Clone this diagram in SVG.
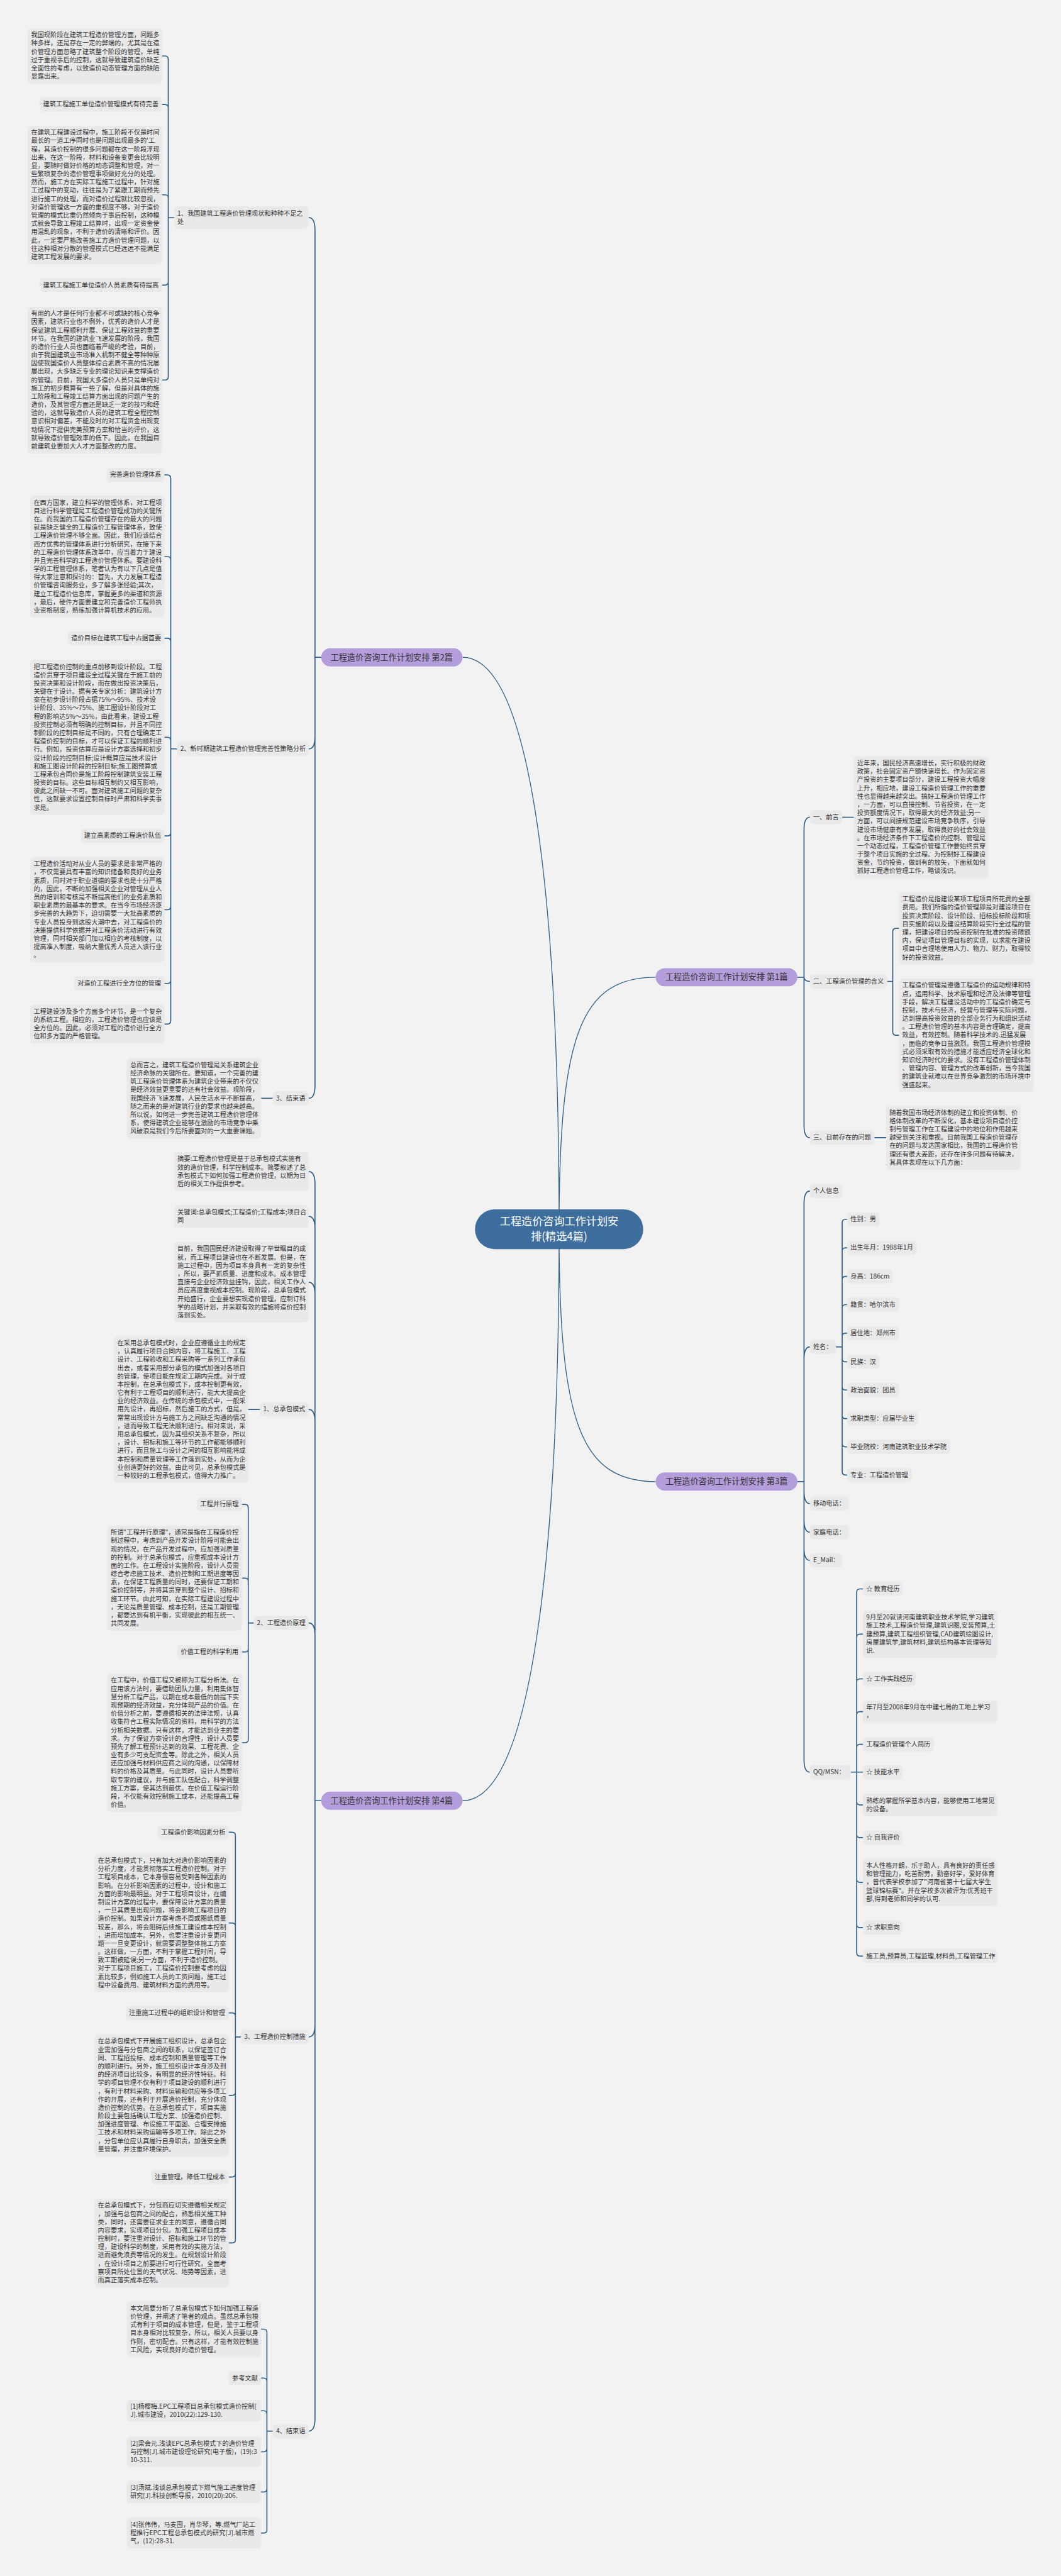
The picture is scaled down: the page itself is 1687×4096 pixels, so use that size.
<svg xmlns="http://www.w3.org/2000/svg" width="1687" height="4096" viewBox="0 0 1687 4096">
<style>
.b{fill:#e9e9e9}
.t{font-family:"Noto Sans CJK SC","Liberation Sans",sans-serif;font-size:15.5px;fill:#333}
.c{fill:none;stroke:#2e5f8a;stroke-width:2.5;stroke-linecap:round}
.m{fill:none;stroke:#2e5f8a;stroke-width:2}
.p{fill:#b49ddb}
.pt{font-family:"Noto Sans CJK SC","Liberation Sans",sans-serif;font-size:20px;fill:#333;text-anchor:middle}
.ct{font-family:"Noto Sans CJK SC","Liberation Sans",sans-serif;font-size:26px;fill:#fff;text-anchor:middle}
</style>
<rect x="0" y="0" width="1687" height="4096" fill="#f2f2f2"/>
<g transform="scale(0.65898)">
<g id="connectors">
<path class="m" d="M1349 2966C1349 2300 1300 1586 1116 1586M1349 2966C1349 3630 1300 4345 1116 4345M1349 2966C1349 2500 1400 2358 1582 2358M1349 2966C1349 3430 1400 3575 1582 3575"/>
<path class="c" d="M775 1586H760V555Q760 525 745 525M775 1586H760V1777Q760 1807 745 1807M775 1586H760V2620Q760 2650 745 2650"/>
<path class="c" d="M420 525H406V143Q406 135 398 135H391M420 525H406V260Q406 252 398 252H391M420 525H406V478Q406 470 398 470H391M420 525H406V680Q406 688 398 688H391M420 525H406V909Q406 917 398 917H391"/>
<path class="c" d="M427 1807H412V1154Q412 1146 404 1146H397M427 1807H412V1351Q412 1343 404 1343H397M427 1807H412V1548Q412 1540 404 1540H397M427 1807H412V1787Q412 1779 404 1779H397M427 1807H412V2009Q412 2017 404 2017H397M427 1807H412V2187Q412 2195 404 2195H397M427 1807H412V2365Q412 2373 404 2373H397M427 1807H412V2463Q412 2471 404 2471H397"/>
<path class="c" d="M630 2650H658"/>
<path class="c" d="M775 4345H760V2857Q760 2827 745 2827M775 4345H760V2965Q760 2935 745 2935M775 4345H760V3124Q760 3094 745 3094M775 4345H760V3431Q760 3401 745 3401M775 4345H760V3946Q760 3916 745 3916M775 4345H760V4885Q760 4915 745 4915M775 4345H760V5836Q760 5866 745 5866"/>
<path class="c" d="M599 3401H627"/>
<path class="c" d="M612 3916H599V3638Q599 3630 591 3630H584M612 3916H599V3816Q599 3808 591 3808H584M612 3916H599V3978Q599 3986 591 3986H584M612 3916H599V4197Q599 4205 591 4205H584"/>
<path class="c" d="M581 4915H568V4429Q568 4421 560 4421H552M581 4915H568V4648Q568 4640 560 4640H552M581 4915H568V4865Q568 4857 560 4857H552M581 4915H568V5048Q568 5056 560 5056H552M581 4915H568V5245Q568 5253 560 5253H552M581 4915H568V5404Q568 5412 560 5412H552"/>
<path class="c" d="M658 5866H644V5628Q644 5620 636 5620H630M658 5866H644V5746Q644 5738 636 5738H630M658 5866H644V5825Q644 5817 636 5817H630M658 5866H644V5908Q644 5916 636 5916H630M658 5866H644V6005Q644 6013 636 6013H630M658 5866H644V6104Q644 6112 636 6112H630"/>
<path class="c" d="M1924 2358H1940V2002Q1940 1972 1954 1972M1924 2358H1940Q1940 2368 1954 2368M1924 2358H1940V2715Q1940 2745 1954 2745"/>
<path class="c" d="M2032 1972H2060M2110 2745H2138"/>
<path class="c" d="M2141 2368H2154V2248Q2154 2240 2162 2240H2169M2141 2368H2154V2490Q2154 2498 2162 2498H2169"/>
<path class="c" d="M1924 3575H1940V2904Q1940 2874 1954 2874M1924 3575H1940V3280Q1940 3250 1954 3250M1924 3575H1940V3598Q1940 3628 1954 3628M1924 3575H1940V3667Q1940 3697 1954 3697M1924 3575H1940V3735Q1940 3765 1954 3765M1924 3575H1940V4246Q1940 4276 1954 4276"/>
<path class="c" d="M2017 3250H2032V2950Q2032 2942 2040 2942H2044M2017 3250H2032V3019Q2032 3011 2040 3011H2044M2017 3250H2032V3088Q2032 3080 2040 3080H2044M2017 3250H2032V3156Q2032 3148 2040 3148H2044M2017 3250H2032V3225Q2032 3217 2040 3217H2044M2017 3250H2032V3278Q2032 3286 2040 3286H2044M2017 3250H2032V3346Q2032 3354 2040 3354H2044M2017 3250H2032V3415Q2032 3423 2040 3423H2044M2017 3250H2032V3483Q2032 3491 2040 3491H2044M2017 3250H2032V3551Q2032 3559 2040 3559H2044"/>
<path class="c" d="M2053 4276H2067V3842Q2067 3834 2075 3834H2082M2053 4276H2067V3951Q2067 3943 2075 3943H2082M2053 4276H2067V4059Q2067 4051 2075 4051H2082M2053 4276H2067V4138Q2067 4130 2075 4130H2082M2053 4276H2067V4217Q2067 4209 2075 4209H2082M2053 4276H2082M2053 4276H2067V4347Q2067 4355 2075 4355H2082M2053 4276H2067V4426Q2067 4434 2075 4434H2082M2053 4276H2067V4534Q2067 4542 2075 4542H2082M2053 4276H2067V4643Q2067 4651 2075 4651H2082M2053 4276H2067V4712Q2067 4720 2075 4720H2082"/>
</g>

<g id="center"><rect x="1146" y="2918" width="406" height="96" rx="48" fill="#3d6e9e"/><text class="ct"><tspan x="1349" y="2956">工程造价咨询工作计划安</tspan><tspan x="1349" y="2993">排(精选4篇)</tspan></text></g>

<g id="p2"><rect class="p" x="775" y="1564" width="341" height="44" rx="22"/><text class="pt" x="945" y="1593">工程造价咨询工作计划安排 第2篇</text></g>
<g id="p4"><rect class="p" x="775" y="4323" width="341" height="44" rx="22"/><text class="pt" x="945" y="4352">工程造价咨询工作计划安排 第4篇</text></g>
<g id="p1"><rect class="p" x="1582" y="2336" width="342" height="44" rx="22"/><text class="pt" x="1753" y="2365">工程造价咨询工作计划安排 第1篇</text></g>
<g id="p3"><rect class="p" x="1582" y="3553" width="342" height="44" rx="22"/><text class="pt" x="1753" y="3582">工程造价咨询工作计划安排 第3篇</text></g>

<g id="l2-1"><rect class="b" x="420" y="498" width="325" height="54" rx="9"/><text class="t"><tspan x="428" y="520">1、我国建筑工程造价管理现状和种种不足之</tspan><tspan x="428" y="540">处</tspan></text></g>
<g id="a1"><rect class="b" x="67" y="68" width="324" height="134" rx="9"/><text class="t"><tspan x="75" y="90">我国现阶段在建筑工程造价管理方面，问题多</tspan><tspan x="75" y="110">种多样，还是存在一定的弊端的，尤其是在造</tspan><tspan x="75" y="130">价管理方面忽略了建筑整个阶段的管理，单纯</tspan><tspan x="75" y="150">过于重视事后的控制，这就导致建筑造价缺乏</tspan><tspan x="75" y="170">全面性的考虑，以致造价动态管理方面的缺陷</tspan><tspan x="75" y="190">显露出来。</tspan></text></g>
<g id="a2"><rect class="b" x="96" y="235" width="295" height="34" rx="9"/><text class="t" x="104" y="257">建筑工程施工单位造价管理模式有待完善</text></g>
<g id="a3"><rect class="b" x="67" y="303" width="324" height="334" rx="9"/><text class="t"><tspan x="75" y="325">在建筑工程建设过程中，施工阶段不仅是时间</tspan><tspan x="75" y="345">最长的一道工序同时也是问题出现最多的'工</tspan><tspan x="75" y="365">程，其造价控制的很多问题都在这一阶段浮现</tspan><tspan x="75" y="385">出来，在这一阶段，材料和设备变更会比较明</tspan><tspan x="75" y="405">显，要随时做好价格的动态调整和管理，对一</tspan><tspan x="75" y="425">些繁琐复杂的造价管理事项做好充分的处理。</tspan><tspan x="75" y="445">然而，施工方在实际工程施工过程中，针对施</tspan><tspan x="75" y="465">工过程中的变动，往往是为了紧跟工期而预先</tspan><tspan x="75" y="485">进行施工的处理，而对造价过程就比较忽视，</tspan><tspan x="75" y="505">对造价管理这一方面的重视度不够，对于造价</tspan><tspan x="75" y="525">管理的模式比重仍然倾向于事后控制，这种模</tspan><tspan x="75" y="545">式就会导致工程竣工结算时，出现一定资金使</tspan><tspan x="75" y="565">用混乱的现象，不利于造价的清晰和评价。因</tspan><tspan x="75" y="585">此，一定要严格改善施工方造价管理问题，以</tspan><tspan x="75" y="605">往这种相对分散的管理模式已经远远不能满足</tspan><tspan x="75" y="625">建筑工程发展的要求。</tspan></text></g>
<g id="a4"><rect class="b" x="96" y="671" width="295" height="34" rx="9"/><text class="t" x="104" y="693">建筑工程施工单位造价人员素质有待提高</text></g>
<g id="a5"><rect class="b" x="67" y="740" width="324" height="354" rx="9"/><text class="t"><tspan x="75" y="762">有用的人才是任何行业都不可或缺的核心竞争</tspan><tspan x="75" y="782">因素，建筑行业也不例外，优秀的造价人才是</tspan><tspan x="75" y="802">保证建筑工程顺利开展、保证工程效益的重要</tspan><tspan x="75" y="822">环节。在我国的建筑业飞速发展的阶段，我国</tspan><tspan x="75" y="842">的造价行业人员也面临着严峻的考验，目前，</tspan><tspan x="75" y="862">由于我国建筑业市场准入机制不健全等种种原</tspan><tspan x="75" y="882">因使我国造价人员整体综合素质不高的情况屡</tspan><tspan x="75" y="902">屡出现，大多缺乏专业的理论知识来支撑造价</tspan><tspan x="75" y="922">的管理。目前，我国大多造价人员只是单纯对</tspan><tspan x="75" y="942">施工的初步概算有一些了解，但是对具体的施</tspan><tspan x="75" y="962">工阶段和工程竣工结算方面出现的问题产生的</tspan><tspan x="75" y="982">造价，及其管理方面还是缺乏一定的技巧和经</tspan><tspan x="75" y="1002">验的，这就导致造价人员的建筑工程全程控制</tspan><tspan x="75" y="1022">意识相对偏差，不能及时的对工程资金出现变</tspan><tspan x="75" y="1042">动情况下提供完美预算方案和恰当的评价，这</tspan><tspan x="75" y="1062">就导致造价管理效率的低下。因此，在我国目</tspan><tspan x="75" y="1082">前建筑业要加大人才方面整改的力度。</tspan></text></g>

<g id="l2-2"><rect class="b" x="427" y="1790" width="318" height="34" rx="9"/><text class="t" x="435" y="1812">2、新时期建筑工程造价管理完善性策略分析</text></g>
<g id="b1"><rect class="b" x="257" y="1129" width="140" height="34" rx="9"/><text class="t" x="265" y="1151">完善造价管理体系</text></g>
<g id="b2"><rect class="b" x="73" y="1196" width="324" height="294" rx="9"/><text class="t"><tspan x="81" y="1218">在西方国家，建立科学的管理体系，对工程项</tspan><tspan x="81" y="1238">目进行科学管理是工程造价管理成功的关键所</tspan><tspan x="81" y="1258">在。而我国的工程造价管理存在的最大的问题</tspan><tspan x="81" y="1278">就是缺乏健全的工程造价工程管理体系，致使</tspan><tspan x="81" y="1298">工程造价管理不够全面。因此，我们应该结合</tspan><tspan x="81" y="1318">西方优秀的管理体系进行分析研究，在接下来</tspan><tspan x="81" y="1338">的工程造价管理体系改革中，应当着力于建设</tspan><tspan x="81" y="1358">并且完善科学的工程造价管理体系。要建设科</tspan><tspan x="81" y="1378">学的工程管理体系，笔者认为有以下几点是值</tspan><tspan x="81" y="1398">得大家注意和探讨的：首先，大力发展工程造</tspan><tspan x="81" y="1418">价管理咨询服务业，多了解多张经验;其次，</tspan><tspan x="81" y="1438">建立工程造价信息库，掌握更多的渠道和资源</tspan><tspan x="81" y="1458">，最后，硬件方面要建立和完善造价工程师执</tspan><tspan x="81" y="1478">业资格制度，熟练加强计算机技术的应用。</tspan></text></g>
<g id="b3"><rect class="b" x="164" y="1523" width="233" height="34" rx="9"/><text class="t" x="172" y="1545">造价目标在建筑工程中占据首要</text></g>
<g id="b4"><rect class="b" x="73" y="1592" width="324" height="374" rx="9"/><text class="t"><tspan x="81" y="1614">把工程造价控制的重点前移到设计阶段。工程</tspan><tspan x="81" y="1634">造价贯穿于项目建设全过程关键在于施工前的</tspan><tspan x="81" y="1654">投资决策和设计阶段，而在做出投资决策后，</tspan><tspan x="81" y="1674">关键在于设计。据有关专家分析：建筑设计方</tspan><tspan x="81" y="1694">案在初步设计阶段占据75%～95%、技术设</tspan><tspan x="81" y="1714">计阶段、35%～75%、施工图设计阶段对工</tspan><tspan x="81" y="1734">程的影响达5%～35%，由此看来，建设工程</tspan><tspan x="81" y="1754">投资控制必须有明确的控制目标，并且不同控</tspan><tspan x="81" y="1774">制阶段的控制目标是不同的，只有合理确定工</tspan><tspan x="81" y="1794">程造价控制的目标，才可以保证工程的顺利进</tspan><tspan x="81" y="1814">行。例如，投资估算应是设计方案选择和初步</tspan><tspan x="81" y="1834">设计阶段的控制目标;设计概算应是技术设计</tspan><tspan x="81" y="1854">和施工图设计阶段的控制目标;施工图预算或</tspan><tspan x="81" y="1874">工程承包合同价是施工阶段控制建筑安装工程</tspan><tspan x="81" y="1894">投资的目标。这些目标相互制约又相互影响，</tspan><tspan x="81" y="1914">彼此之间缺一不可。面对建筑施工问题的复杂</tspan><tspan x="81" y="1934">性，这就要求设置控制目标时严肃和科学实事</tspan><tspan x="81" y="1954">求是。</tspan></text></g>
<g id="b5"><rect class="b" x="195" y="2000" width="202" height="34" rx="9"/><text class="t" x="203" y="2022">建立高素质的工程造价队伍</text></g>
<g id="b6"><rect class="b" x="73" y="2068" width="324" height="254" rx="9"/><text class="t"><tspan x="81" y="2090">工程造价活动对从业人员的要求是非常严格的</tspan><tspan x="81" y="2110">，不仅需要具有丰富的知识储备和良好的业务</tspan><tspan x="81" y="2130">素质，同时对于职业道德的要求也是十分严格</tspan><tspan x="81" y="2150">的，因此，不断的加强相关企业对管理从业人</tspan><tspan x="81" y="2170">员的培训和考核是不断提高他们的业务素质和</tspan><tspan x="81" y="2190">职业素质的最基本的要求。在当今市场经济逐</tspan><tspan x="81" y="2210">步完善的大趋势下，迫切需要一大批高素质的</tspan><tspan x="81" y="2230">专业人员投身到这股大潮中去，对工程造价的</tspan><tspan x="81" y="2250">决策提供科学依据并对工程造价活动进行有效</tspan><tspan x="81" y="2270">管理，同时相关部门加以相应的考核制度，以</tspan><tspan x="81" y="2290">提高准入制度，吸纳大量优秀人员进入该行业</tspan><tspan x="81" y="2310">。</tspan></text></g>
<g id="b7"><rect class="b" x="179" y="2356" width="218" height="34" rx="9"/><text class="t" x="187" y="2378">对造价工程进行全方位的管理</text></g>
<g id="b8"><rect class="b" x="73" y="2424" width="324" height="94" rx="9"/><text class="t"><tspan x="81" y="2446">工程建设涉及多个方面多个环节，是一个复杂</tspan><tspan x="81" y="2466">的系统工程。相应的，工程造价管理也应该是</tspan><tspan x="81" y="2486">全方位的。因此，必须对工程的造价进行全方</tspan><tspan x="81" y="2506">位和多方面的严格管理。</tspan></text></g>

<g id="l2-3"><rect class="b" x="658" y="2633" width="87" height="34" rx="9"/><text class="t" x="666" y="2655">3、结束语</text></g>
<g id="c1"><rect class="b" x="306" y="2553" width="324" height="194" rx="9"/><text class="t"><tspan x="314" y="2575">总而言之，建筑工程造价管理是关系建筑企业</tspan><tspan x="314" y="2595">经济命脉的关键所在。要知道，一个完善的建</tspan><tspan x="314" y="2615">筑工程造价管理体系为建筑企业带来的不仅仅</tspan><tspan x="314" y="2635">是经济效益更重要的还有社会效益。现阶段，</tspan><tspan x="314" y="2655">我国经济飞速发展，人民生活水平不断提高，</tspan><tspan x="314" y="2675">随之而来的是对建筑行业的要求也越来越高。</tspan><tspan x="314" y="2695">所以说，如何进一步完善建筑工程造价管理体</tspan><tspan x="314" y="2715">系，使得建筑企业能够在激励的市场竞争中乘</tspan><tspan x="314" y="2735">风破浪是我们今后所要面对的一大重要课题。</tspan></text></g>

<g id="d1"><rect class="b" x="420" y="2780" width="325" height="94" rx="9"/><text class="t"><tspan x="428" y="2802">摘要:工程造价管理是基于总承包模式实施有</tspan><tspan x="428" y="2822">效的造价管理，科学控制成本。简要叙述了总</tspan><tspan x="428" y="2842">承包模式下如何加强工程造价管理，以期为日</tspan><tspan x="428" y="2862">后的相关工作提供参考。</tspan></text></g>
<g id="d2"><rect class="b" x="420" y="2908" width="325" height="54" rx="9"/><text class="t"><tspan x="428" y="2930">关键词:总承包模式;工程造价;工程成本;项目合</tspan><tspan x="428" y="2950">同</tspan></text></g>
<g id="d3"><rect class="b" x="420" y="2997" width="325" height="194" rx="9"/><text class="t"><tspan x="428" y="3019">目前，我国国民经济建设取得了举世瞩目的成</tspan><tspan x="428" y="3039">就，而工程项目建设也在不断发展。但是，在</tspan><tspan x="428" y="3059">施工过程中，因为项目本身具有一定的复杂性</tspan><tspan x="428" y="3079">，所以，要严抓质量、进度和成本。成本管理</tspan><tspan x="428" y="3099">直接与企业经济效益挂钩，因此，相关工作人</tspan><tspan x="428" y="3119">员应高度重视成本控制。现阶段，总承包模式</tspan><tspan x="428" y="3139">开始盛行，企业要想实现造价管理，应制订科</tspan><tspan x="428" y="3159">学的战略计划，并采取有效的措施将造价控制</tspan><tspan x="428" y="3179">落到实处。</tspan></text></g>

<g id="l4-1"><rect class="b" x="627" y="3384" width="118" height="34" rx="9"/><text class="t" x="635" y="3406">1、总承包模式</text></g>
<g id="e1"><rect class="b" x="275" y="3224" width="324" height="354" rx="9"/><text class="t"><tspan x="283" y="3246">在采用总承包模式时，企业应遵循业主的规定</tspan><tspan x="283" y="3266">，认真履行项目合同内容，将工程施工、工程</tspan><tspan x="283" y="3286">设计、工程验收和工程采购等一系列工作承包</tspan><tspan x="283" y="3306">出去，或者采用部分承包的模式加强对各项目</tspan><tspan x="283" y="3326">的管理，使项目能在规定工期内完成。对于成</tspan><tspan x="283" y="3346">本控制，在总承包模式下，成本控制更有效，</tspan><tspan x="283" y="3366">它有利于工程项目的顺利进行，能大大提高企</tspan><tspan x="283" y="3386">业的经济效益。在传统的承包模式中，一般采</tspan><tspan x="283" y="3406">用先设计，再招标，然后施工的方式，但是，</tspan><tspan x="283" y="3426">常常出现设计方与施工方之间缺乏沟通的情况</tspan><tspan x="283" y="3446">，进而导致工程无法顺利进行。相对来说，采</tspan><tspan x="283" y="3466">用总承包模式，因为其组织关系不复杂，所以</tspan><tspan x="283" y="3486">，设计、招标和施工等环节的工作都能够顺利</tspan><tspan x="283" y="3506">进行，而且施工与设计之间的相互影响能将成</tspan><tspan x="283" y="3526">本控制和质量管理等工作落到实处，从而为企</tspan><tspan x="283" y="3546">业创造更好的效益。由此可见，总承包模式是</tspan><tspan x="283" y="3566">一种较好的工程承包模式，值得大力推广。</tspan></text></g>

<g id="l4-2"><rect class="b" x="612" y="3899" width="133" height="34" rx="9"/><text class="t" x="620" y="3921">2、工程造价原理</text></g>
<g id="f1"><rect class="b" x="475" y="3613" width="109" height="34" rx="9"/><text class="t" x="483" y="3635">工程并行原理</text></g>
<g id="f2"><rect class="b" x="259" y="3681" width="325" height="254" rx="9"/><text class="t"><tspan x="267" y="3703">所谓"工程并行原理"，通常是指在工程造价控</tspan><tspan x="267" y="3723">制过程中，考虑到产品开发设计阶段可能会出</tspan><tspan x="267" y="3743">现的情况，在产品开发过程中，应加强对质量</tspan><tspan x="267" y="3763">的控制。对于总承包模式，应重视成本设计方</tspan><tspan x="267" y="3783">面的工作。在工程设计实施阶段，设计人员需</tspan><tspan x="267" y="3803">综合考虑施工技术、造价控制和工期进度等因</tspan><tspan x="267" y="3823">素，在保证工程质量的同时，还要保证工期和</tspan><tspan x="267" y="3843">造价控制等，并将其贯穿到整个设计、招标和</tspan><tspan x="267" y="3863">施工环节。由此可知，在实际工程建设过程中</tspan><tspan x="267" y="3883">，无论是质量管理、成本控制，还是工期管理</tspan><tspan x="267" y="3903">，都要达到有机平衡，实现彼此的相互统一、</tspan><tspan x="267" y="3923">共同发展。</tspan></text></g>
<g id="f3"><rect class="b" x="428" y="3969" width="156" height="34" rx="9"/><text class="t" x="436" y="3991">价值工程的科学利用</text></g>
<g id="f4"><rect class="b" x="259" y="4038" width="325" height="334" rx="9"/><text class="t"><tspan x="267" y="4060">在工程中，价值工程又被称为工程分析法。在</tspan><tspan x="267" y="4080">应用该方法时，要借助团队力量，利用集体智</tspan><tspan x="267" y="4100">慧分析工程产品，以期在成本最低的前提下实</tspan><tspan x="267" y="4120">现预期的经济效益，充分体现产品的价值。在</tspan><tspan x="267" y="4140">价值分析之前，要遵循相关的法律法规，认真</tspan><tspan x="267" y="4160">收集符合工程实际情况的资料，用科学的方法</tspan><tspan x="267" y="4180">分析相关数据。只有这样，才能达到业主的要</tspan><tspan x="267" y="4200">求。为了保证方案设计的合理性，设计人员要</tspan><tspan x="267" y="4220">预先了解工程预计达到的效果、工程花费、企</tspan><tspan x="267" y="4240">业有多少可支配资金等。除此之外，相关人员</tspan><tspan x="267" y="4260">还应加强与材料供应商之间的沟通，以保障材</tspan><tspan x="267" y="4280">料的价格及其质量。与此同时，设计人员要听</tspan><tspan x="267" y="4300">取专家的建议，并与施工队伍配合，科学调整</tspan><tspan x="267" y="4320">施工方案，使其达到最优。在价值工程运行阶</tspan><tspan x="267" y="4340">段，不仅能有效控制施工成本，还能提高工程</tspan><tspan x="267" y="4360">价值。</tspan></text></g>

<g id="l4-3"><rect class="b" x="581" y="4898" width="164" height="34" rx="9"/><text class="t" x="589" y="4920">3、工程造价控制措施</text></g>
<g id="g1"><rect class="b" x="381" y="4404" width="171" height="34" rx="9"/><text class="t" x="389" y="4426">工程造价影响因素分析</text></g>
<g id="g2"><rect class="b" x="228" y="4473" width="324" height="334" rx="9"/><text class="t"><tspan x="236" y="4495">在总承包模式下，只有加大对造价影响因素的</tspan><tspan x="236" y="4515">分析力度，才能贯彻落实工程造价控制。对于</tspan><tspan x="236" y="4535">工程项目成本，它本身很容易受到各种因素的</tspan><tspan x="236" y="4555">影响。在分析影响因素的过程中，设计和施工</tspan><tspan x="236" y="4575">方面的影响最明显。对于工程项目设计，在编</tspan><tspan x="236" y="4595">制设计方案的过程中，要保障设计方案的质量</tspan><tspan x="236" y="4615">，一旦其质量出现问题，将会影响工程项目的</tspan><tspan x="236" y="4635">造价控制。如果设计方案考虑不周或图纸质量</tspan><tspan x="236" y="4655">较差，那么，将会阻碍后续施工建设成本控制</tspan><tspan x="236" y="4675">，进而增加成本。另外，也要注重设计变更问</tspan><tspan x="236" y="4695">题一一旦变更设计，就需要调整整体施工方案</tspan><tspan x="236" y="4715">。这样做，一方面，不利于掌握工程时间，导</tspan><tspan x="236" y="4735">致工期被延误;另一方面，不利于造价控制。</tspan><tspan x="236" y="4755">对于工程项目施工，工程造价控制要考虑的因</tspan><tspan x="236" y="4775">素比较多，例如施工人员的工资问题，施工过</tspan><tspan x="236" y="4795">程中设备费用、建筑材料方面的费用等。</tspan></text></g>
<g id="g3"><rect class="b" x="303" y="4840" width="249" height="34" rx="9"/><text class="t" x="311" y="4862">注重施工过程中的组织设计和管理</text></g>
<g id="g4"><rect class="b" x="228" y="4909" width="324" height="294" rx="9"/><text class="t"><tspan x="236" y="4931">在总承包模式下开展施工组织设计，总承包企</tspan><tspan x="236" y="4951">业需加强与分包商之间的联系，以保证签订合</tspan><tspan x="236" y="4971">同、工程招投标、成本控制和质量管理等工作</tspan><tspan x="236" y="4991">的顺利进行。另外，施工组织设计本身涉及到</tspan><tspan x="236" y="5011">的经济项目比较多，有明显的经济性特征。科</tspan><tspan x="236" y="5031">学的项目管理不仅有利于项目建设的顺利进行</tspan><tspan x="236" y="5051">，有利于材料采购、材料运输和供应等多项工</tspan><tspan x="236" y="5071">作的开展，还有利于开展造价控制，充分体现</tspan><tspan x="236" y="5091">造价控制的优势。在总承包模式下，项目实施</tspan><tspan x="236" y="5111">阶段主要包括确认工程方案、加强造价控制、</tspan><tspan x="236" y="5131">加强进度管理、布设施工平面图、合理安排施</tspan><tspan x="236" y="5151">工技术和材料采购运输等多项工作。除此之外</tspan><tspan x="236" y="5171">，分包单位应认真履行自身职责，加强安全质</tspan><tspan x="236" y="5191">量管理，并注重环境保护。</tspan></text></g>
<g id="g5"><rect class="b" x="365" y="5236" width="187" height="34" rx="9"/><text class="t" x="373" y="5258">注重管理，降低工程成本</text></g>
<g id="g6"><rect class="b" x="228" y="5305" width="324" height="214" rx="9"/><text class="t"><tspan x="236" y="5327">在总承包模式下，分包商应切实遵循相关规定</tspan><tspan x="236" y="5347">，加强与总包商之间的配合，熟悉相关施工种</tspan><tspan x="236" y="5367">类，同时，还需要征求业主的同意，遵循合同</tspan><tspan x="236" y="5387">内容要求，实现项目分包。加强工程项目成本</tspan><tspan x="236" y="5407">控制时，要注重对设计、招标和施工环节的管</tspan><tspan x="236" y="5427">理，建设科学的制度，采用有效的实施方法，</tspan><tspan x="236" y="5447">进而避免浪费等情况的发生。在规划设计阶段</tspan><tspan x="236" y="5467">，在设计项目之前要进行可行性研究，全面考</tspan><tspan x="236" y="5487">察项目所处位置的天气状况、地势等因素，进</tspan><tspan x="236" y="5507">而真正落实成本控制。</tspan></text></g>

<g id="l4-4"><rect class="b" x="658" y="5849" width="87" height="34" rx="9"/><text class="t" x="666" y="5871">4、结束语</text></g>
<g id="h1"><rect class="b" x="306" y="5553" width="324" height="134" rx="9"/><text class="t"><tspan x="314" y="5575">本文简要分析了总承包模式下如何加强工程造</tspan><tspan x="314" y="5595">价管理，并阐述了笔者的观点。虽然总承包模</tspan><tspan x="314" y="5615">式有利于项目的成本管理，但是，鉴于工程项</tspan><tspan x="314" y="5635">目本身相对比较复杂，所以，相关人员要以身</tspan><tspan x="314" y="5655">作则，密切配合。只有这样，才能有效控制施</tspan><tspan x="314" y="5675">工风险，实现良好的造价管理。</tspan></text></g>
<g id="h2"><rect class="b" x="552" y="5721" width="78" height="34" rx="9"/><text class="t" x="560" y="5743">参考文献</text></g>
<g id="h3"><rect class="b" x="306" y="5790" width="324" height="54" rx="9"/><text class="t"><tspan x="314" y="5812">[1]杨樱梅.EPC工程项目总承包模式造价控制[</tspan><tspan x="314" y="5832">J].城市建设，2010(22):129-130.</tspan></text></g>
<g id="h4"><rect class="b" x="306" y="5879" width="324" height="74" rx="9"/><text class="t"><tspan x="314" y="5901">[2]梁会元.浅谈EPC总承包模式下的造价管理</tspan><tspan x="314" y="5921">与控制[J].城市建设理论研究(电子版)，(19):3</tspan><tspan x="314" y="5941">10-311.</tspan></text></g>
<g id="h5"><rect class="b" x="306" y="5986" width="324" height="54" rx="9"/><text class="t"><tspan x="314" y="6008">[3]汤斌.浅谈总承包模式下燃气施工进度管理</tspan><tspan x="314" y="6028">研究[J].科技创新导报，2010(20):206.</tspan></text></g>
<g id="h6"><rect class="b" x="306" y="6075" width="324" height="74" rx="9"/><text class="t"><tspan x="314" y="6097">[4]张伟伟，马麦囤，肖华琴，等.燃气厂站工</tspan><tspan x="314" y="6117">程推行EPC工程总承包模式的研究[J].城市燃</tspan><tspan x="314" y="6137">气，(12):28-31.</tspan></text></g>

<g id="r1-1"><rect class="b" x="1954" y="1955" width="78" height="34" rx="9"/><text class="t" x="1962" y="1977">一、前言</text></g>
<g id="p1t"><rect class="b" x="2060" y="1825" width="325" height="294" rx="9"/><text class="t"><tspan x="2068" y="1847">近年来，国民经济高速增长，实行积极的财政</tspan><tspan x="2068" y="1867">政策，社会固定资产额快速增长。作为固定资</tspan><tspan x="2068" y="1887">产投资的主要项目部分，建设工程投资大幅度</tspan><tspan x="2068" y="1907">上升，相应地，建设工程造价管理工作的重要</tspan><tspan x="2068" y="1927">性也显得越来越突出。搞好工程造价管理工作</tspan><tspan x="2068" y="1947">，一方面，可以直接控制、节省投资，在一定</tspan><tspan x="2068" y="1967">投资额度情况下，取得最大的经济效益;另一</tspan><tspan x="2068" y="1987">方面，可以间接规范建设市场竞争秩序，引导</tspan><tspan x="2068" y="2007">建设市场健康有序发展，取得良好的社会效益</tspan><tspan x="2068" y="2027">。在市场经济条件下工程造价的控制、管理是</tspan><tspan x="2068" y="2047">一个动态过程，工程造价管理工作要始终贯穿</tspan><tspan x="2068" y="2067">于整个项目实施的全过程。为控制好工程建设</tspan><tspan x="2068" y="2087">资金，节约投资，做到有的放矢，下面就如何</tspan><tspan x="2068" y="2107">抓好工程造价管理工作，略谈浅识。</tspan></text></g>
<g id="r1-2"><rect class="b" x="1954" y="2351" width="187" height="34" rx="9"/><text class="t" x="1962" y="2373">二、工程造价管理的含义</text></g>
<g id="q1"><rect class="b" x="2169" y="2153" width="325" height="174" rx="9"/><text class="t"><tspan x="2177" y="2175">工程造价是指建设某项工程项目所花费的全部</tspan><tspan x="2177" y="2195">费用。我们所指的造价管理即是对建设项目在</tspan><tspan x="2177" y="2215">投资决策阶段、设计阶段、招标投标阶段和项</tspan><tspan x="2177" y="2235">目实施阶段以及建设结算阶段实行全过程的管</tspan><tspan x="2177" y="2255">理，把建设项目的投资控制在批准的投资限额</tspan><tspan x="2177" y="2275">内，保证项目管理目标的实现，以求能在建设</tspan><tspan x="2177" y="2295">项目中合理地使用人力、物力、财力，取得较</tspan><tspan x="2177" y="2315">好的投资效益。</tspan></text></g>
<g id="q2"><rect class="b" x="2169" y="2361" width="325" height="274" rx="9"/><text class="t"><tspan x="2177" y="2383">工程造价管理是遵循工程造价的运动规律和特</tspan><tspan x="2177" y="2403">点，运用科学、技术原理和经济及法律等管理</tspan><tspan x="2177" y="2423">手段，解决工程建设活动中的工程造价确定与</tspan><tspan x="2177" y="2443">控制，技术与经济，经营与管理等实际问题，</tspan><tspan x="2177" y="2463">达到提高投资效益的全部业务行为和组织活动</tspan><tspan x="2177" y="2483">。工程造价管理的基本内容是合理确定，提高</tspan><tspan x="2177" y="2503">效益，有效控制。随着科学技术的.迅猛发展</tspan><tspan x="2177" y="2523">，面临的竞争日益激烈。我国工程造价管理模</tspan><tspan x="2177" y="2543">式必须采取有效的措施才能适应经济全球化和</tspan><tspan x="2177" y="2563">知识经济时代的要求。没有工程造价管理体制</tspan><tspan x="2177" y="2583">、管理内容、管理方式的改革创新，当今我国</tspan><tspan x="2177" y="2603">的建筑业就难以在世界竞争激烈的市场环境中</tspan><tspan x="2177" y="2623">强盛起来。</tspan></text></g>
<g id="r1-3"><rect class="b" x="1954" y="2728" width="156" height="34" rx="9"/><text class="t" x="1962" y="2750">三、目前存在的问题</text></g>
<g id="r1t"><rect class="b" x="2138" y="2668" width="325" height="154" rx="9"/><text class="t"><tspan x="2146" y="2690">随着我国市场经济体制的建立和投资体制、价</tspan><tspan x="2146" y="2710">格体制改革的不断深化，基本建设项目造价控</tspan><tspan x="2146" y="2730">制与管理工作在工程建设中的地位和作用越来</tspan><tspan x="2146" y="2750">越受到关注和重视。目前我国工程造价管理存</tspan><tspan x="2146" y="2770">在的问题与发达国家相比，我国的工程造价管</tspan><tspan x="2146" y="2790">理还有很大差距，还存在许多问题有待解决，</tspan><tspan x="2146" y="2810">其具体表现在以下几方面：</tspan></text></g>

<g id="r3-1"><rect class="b" x="1954" y="2857" width="78" height="34" rx="9"/><text class="t" x="1962" y="2879">个人信息</text></g>
<g id="r3-2"><rect class="b" x="1954" y="3233" width="63" height="34" rx="9"/><text class="t" x="1962" y="3255">姓名：</text></g>
<g id="n1"><rect class="b" x="2044" y="2925" width="78" height="34" rx="9"/><text class="t" x="2052" y="2947">性别：男</text></g>
<g id="n2"><rect class="b" x="2044" y="2994" width="167" height="34" rx="9"/><text class="t" x="2052" y="3016">出生年月：1988年1月</text></g>
<g id="n3"><rect class="b" x="2044" y="3063" width="109" height="34" rx="9"/><text class="t" x="2052" y="3085">身高：186cm</text></g>
<g id="n4"><rect class="b" x="2044" y="3131" width="125" height="34" rx="9"/><text class="t" x="2052" y="3153">籍贯：哈尔滨市</text></g>
<g id="n5"><rect class="b" x="2044" y="3200" width="125" height="34" rx="9"/><text class="t" x="2052" y="3222">居住地：郑州市</text></g>
<g id="n6"><rect class="b" x="2044" y="3269" width="78" height="34" rx="9"/><text class="t" x="2052" y="3291">民族：汉</text></g>
<g id="n7"><rect class="b" x="2044" y="3337" width="125" height="34" rx="9"/><text class="t" x="2052" y="3359">政治面貌：团员</text></g>
<g id="n8"><rect class="b" x="2044" y="3406" width="171" height="34" rx="9"/><text class="t" x="2052" y="3428">求职类型：应届毕业生</text></g>
<g id="n9"><rect class="b" x="2044" y="3474" width="249" height="34" rx="9"/><text class="t" x="2052" y="3496">毕业院校：河南建筑职业技术学院</text></g>
<g id="n10"><rect class="b" x="2044" y="3542" width="156" height="34" rx="9"/><text class="t" x="2052" y="3564">专业：工程造价管理</text></g>
<g id="r3-3"><rect class="b" x="1954" y="3611" width="94" height="34" rx="9"/><text class="t" x="1962" y="3633">移动电话：</text></g>
<g id="r3-4"><rect class="b" x="1954" y="3680" width="94" height="34" rx="9"/><text class="t" x="1962" y="3702">家庭电话：</text></g>
<g id="r3-5"><rect class="b" x="1954" y="3748" width="78" height="34" rx="9"/><text class="t" x="1962" y="3770">E_Mail：</text></g>
<g id="r3-6"><rect class="b" x="1954" y="4259" width="99" height="34" rx="9"/><text class="t" x="1962" y="4281">QQ/MSN：</text></g>
<g id="s1"><rect class="b" x="2082" y="3817" width="95" height="34" rx="9"/><text class="t" x="2090" y="3839">☆ 教育经历</text></g>
<g id="s2"><rect class="b" x="2082" y="3886" width="325" height="114" rx="9"/><text class="t"><tspan x="2090" y="3908">9月至20就读河南建筑职业技术学院,学习建筑</tspan><tspan x="2090" y="3928">施工技术,工程造价管理,建筑识图,安装预算,土</tspan><tspan x="2090" y="3948">建预算,建筑工程组织管理,CAD建筑绘图设计,</tspan><tspan x="2090" y="3968">房屋建筑学,建筑材料,建筑结构基本管理等知</tspan><tspan x="2090" y="3988">识.</tspan></text></g>
<g id="s3"><rect class="b" x="2082" y="4034" width="128" height="34" rx="9"/><text class="t" x="2090" y="4056">☆ 工作实践经历</text></g>
<g id="s4"><rect class="b" x="2082" y="4103" width="325" height="54" rx="9"/><text class="t"><tspan x="2090" y="4125">年7月至2008年9月在中建七局的工地上学习</tspan><tspan x="2090" y="4145">，</tspan></text></g>
<g id="s5"><rect class="b" x="2082" y="4192" width="171" height="34" rx="9"/><text class="t" x="2090" y="4214">工程造价管理个人简历</text></g>
<g id="s6"><rect class="b" x="2082" y="4259" width="95" height="34" rx="9"/><text class="t" x="2090" y="4281">☆ 技能水平</text></g>
<g id="s7"><rect class="b" x="2082" y="4328" width="325" height="54" rx="9"/><text class="t"><tspan x="2090" y="4350">熟练的掌握所学基本内容，能够使用工地常见</tspan><tspan x="2090" y="4370">的设备。</tspan></text></g>
<g id="s8"><rect class="b" x="2082" y="4417" width="95" height="34" rx="9"/><text class="t" x="2090" y="4439">☆ 自我评价</text></g>
<g id="s9"><rect class="b" x="2082" y="4485" width="325" height="114" rx="9"/><text class="t"><tspan x="2090" y="4507">本人性格开朗，乐于助人，具有良好的责任感</tspan><tspan x="2090" y="4527">和管理能力，吃苦耐劳，勤奋好学，爱好体育</tspan><tspan x="2090" y="4547">，曾代表学校参加了"河南省第十七届大学生</tspan><tspan x="2090" y="4567">篮球锦标赛"。并在学校多次被评为:优秀班干</tspan><tspan x="2090" y="4587">部,得到老师和同学的认可.</tspan></text></g>
<g id="s10"><rect class="b" x="2082" y="4634" width="95" height="34" rx="9"/><text class="t" x="2090" y="4656">☆ 求职意向</text></g>
<g id="s11"><rect class="b" x="2082" y="4703" width="325" height="34" rx="9"/><text class="t" x="2090" y="4725">施工员,预算员,工程监理,材料员,工程管理工作</text></g>
</g>
</svg>
